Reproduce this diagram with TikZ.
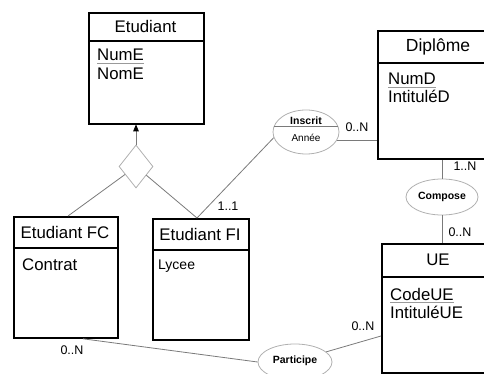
\documentclass[tikz,border=0pt]{standalone}
\usepackage{fontspec}
\setmainfont{Liberation Sans}
\usetikzlibrary{arrows.meta, shapes.geometric, calc}

\definecolor{linkgray}{HTML}{7A7A7A}
\definecolor{shapegray}{HTML}{B0B0B0}
\definecolor{ulgray}{HTML}{9A9A9A}

\tikzset{
  entity/.style={draw=black, line width=1.8pt, rectangle, anchor=north west, inner sep=0pt},
  divider/.style={draw=black, line width=1.8pt},
  title/.style={font=\fontsize{16.8}{18}\selectfont, anchor=center, inner sep=0pt},
  attr/.style={font=\fontsize{16.8}{18}\selectfont, anchor=base west, inner sep=0pt},
  smallattr/.style={font=\fontsize{14}{16}\selectfont, anchor=base west, inner sep=0pt},
  uline/.style={draw=ulgray, line width=1.2pt},
  link/.style={draw=linkgray, line width=0.8pt},
  relation/.style={ellipse, draw=shapegray, line width=0.8pt, inner sep=0pt},
  isa/.style={diamond, draw=shapegray, line width=0.8pt, inner sep=0pt},
  relname/.style={font=\bfseries\fontsize{10.5}{12}\selectfont, inner sep=0pt},
  relattr/.style={font=\fontsize{10}{12}\selectfont, inner sep=0pt},
  card/.style={font=\fontsize{12.5}{14}\selectfont, inner sep=0pt}
}

\begin{document}
\begin{tikzpicture}[x=1pt, y=-1pt]
\useasboundingbox (0,0) rectangle (484,374);
\clip (0,0) rectangle (484,374);

% ---- Etudiant
\node[entity, minimum width=115pt, minimum height=111pt] (etu) at (88,12) {};
\draw[divider] ($(etu.north west)+(0,29)$) -- ($(etu.north east)+(0,29)$);
\node[title] (etuT) at (145.5,26.5) {Etudiant};
\node[attr] (numE) at (97,61) {NumE};
\draw[uline] ($(numE.base west)+(0,2.8)$) -- ($(numE.base east)+(0,2.8)$);
\node[attr] (nomE) at (97,80) {NomE};

% ---- Etudiant FC
\node[entity, minimum width=104pt, minimum height=121pt] (fc) at (13,216) {};
\draw[divider] ($(fc.north west)+(0,32)$) -- ($(fc.north east)+(0,32)$);
\node[title] (fcT) at (65,232) {Etudiant FC};
\node[attr] (contrat) at (22,270) {Contrat};

% ---- Etudiant FI
\node[entity, minimum width=96pt, minimum height=121pt] (fi) at (152,218) {};
\draw[divider] ($(fi.north west)+(0,32)$) -- ($(fi.north east)+(0,32)$);
\node[title] (fiT) at (200,234) {Etudiant FI};
\node[smallattr] (lycee) at (158,269) {Lycee};

% ---- Diplome
\node[entity, minimum width=122pt, minimum height=128pt] (dip) at (377,30) {};
\draw[divider] ($(dip.north west)+(0,33)$) -- ($(dip.north east)+(0,33)$);
\node[title, font=\fontsize{17.5}{19}\selectfont] (dipT) at (438,46.5) {Diplôme};
\node[attr] (numD) at (388,85) {NumD};
\draw[uline] ($(numD.base west)+(0,2.8)$) -- ($(numD.base east)+(0,2.8)$);
\node[attr] (intD) at (388,103) {IntituléD};

% ---- UE
\node[entity, minimum width=118pt, minimum height=129pt] (ue) at (381,243) {};
\draw[divider] ($(ue.north west)+(0,34)$) -- ($(ue.north east)+(0,34)$);
\node[title] (ueT) at (438,260) {UE};
\node[attr] (codeUE) at (390,300) {CodeUE};
\draw[uline] ($(codeUE.base west)+(0,2.8)$) -- ($(codeUE.base east)+(0,2.8)$);
\node[attr] (intUE) at (390,318) {IntituléUE};

% ---- specialisation
\node[isa, minimum width=34pt, minimum height=43pt] (gen) at (136,166.5) {};
\coordinate (fcTop) at ($(fc.north west)+(55,0)$);
\coordinate (fiTop) at ($(fi.north west)+(45,0)$);
\draw[link] (gen) -- (fcTop);
\draw[link] (gen) -- (fiTop);
\draw[link, -{Triangle[length=7pt, width=5.5pt, color=black, fill=black]}, shorten >=-0.5pt] (gen.north) -- (gen.north |- etu.south);

% ---- Inscrit
\node[relation, minimum width=66pt, minimum height=44pt] (inscrit) at (306,132) {};
\draw[link] ($(inscrit.center)+(-31.7,-6)$) -- ($(inscrit.center)+(31.7,-6)$);
\node[relname] (inscritT) at ($(inscrit.center)+(0,-11)$) {Inscrit};
\node[relattr] (annee) at ($(inscrit.center)+(0,5.5)$) {Année};
\draw[link] (fiTop) -- (inscrit.190);
\draw[link] (inscrit.345) -- (inscrit.345 -| dip.west);

% ---- Compose
\node[relation, minimum width=72pt, minimum height=36pt] (compose) at (442,197) {};
\node[relname] (composeT) at (compose.center) {Compose};
\draw[link] (compose.north) -- (compose.north |- dip.south);
\draw[link] (compose.south) -- (compose.south |- ue.north);

% ---- Participe
\node[relation, minimum width=74pt, minimum height=36pt] (participe) at (295,362) {};
\node[relname] (participeT) at ($(participe.center)+(0,-1)$) {Participe};
\coordinate (fcBot) at ($(fc.south west)+(70,0)$);
\coordinate (ueLeft) at ($(ue.north west)+(0,93)$);
\draw[link] (fcBot) -- (participe.west);
\draw[link] (participe.18) -- (ueLeft);

% ---- cardinalities
\node[card] (c1) at (357,127) {0..N};
\node[card] (c2) at (228,206) {1..1};
\node[card] (c3) at (465,166) {1..N};
\node[card] (c4) at (460,232) {0..N};
\node[card] (c5) at (72,350) {0..N};
\node[card] (c6) at (363,326) {0..N};
\end{tikzpicture}
\end{document}
